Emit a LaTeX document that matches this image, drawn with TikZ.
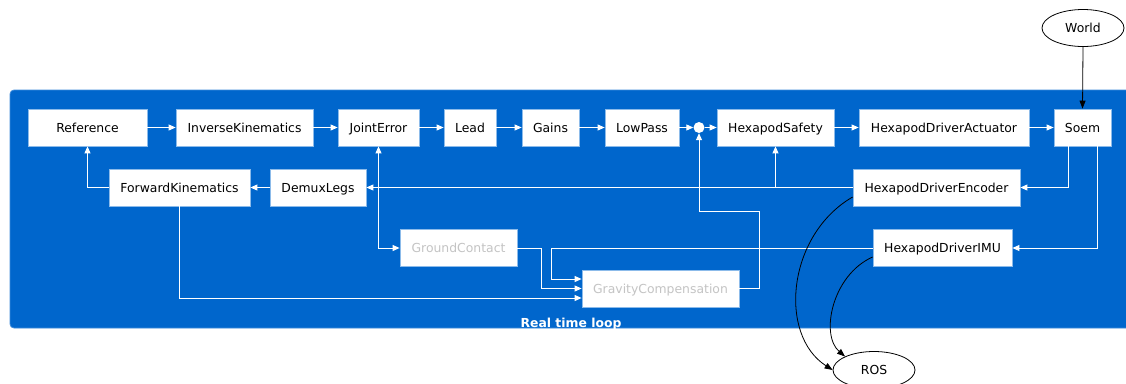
\documentclass[tikz,border=0pt]{standalone}
\usepackage{fontspec}
\setmainfont{DejaVu Sans}
\usetikzlibrary{arrows.meta,shapes.geometric}
\definecolor{loopblue}{HTML}{0066CC}
\definecolor{loopborder}{HTML}{3D8BDB}
\definecolor{boxborder}{HTML}{8CBBEA}
\definecolor{muted}{HTML}{C4C4C4}
\begin{document}
\begin{tikzpicture}[x=1pt,y=-1pt,
  every node/.style={font=\fontsize{12.4}{14}\selectfont},
  blk/.style={draw=boxborder, fill=white, line width=0.8pt, minimum height=37pt, inner sep=0pt, text height=9pt, text depth=0pt, text=black},
  mutedblk/.style={blk, text=muted},
  wire/.style={draw=white, line width=0.9pt, -{Triangle[length=7pt,width=6pt]}},
  ext/.style={draw=black, line width=0.8pt, -{Triangle[length=8pt,width=6pt]}},
  oval/.style={ellipse, draw=black, fill=white, line width=0.8pt, minimum width=82pt, minimum height=37pt, inner sep=0pt, text height=9pt, text depth=0pt}]
\useasboundingbox (0,0) rectangle (1126,383);
\begin{scope}
\clip (0,0) rectangle (1126,383);
% cluster
\path[fill=loopblue, draw=loopborder, line width=0.8pt, rounded corners=4pt] (10,90) rectangle (1150,328);
\node[font=\bfseries\fontsize{12.4}{14}\selectfont, text=white, anchor=base] (lbl) at (571,327) {Real time loop};

% row 1
\node[blk, minimum width=119pt] (ref) at (87.5,127.5) {Reference};
\node[blk, minimum width=137pt] (ik) at (244.5,127.5) {InverseKinematics};
\node[blk, minimum width=81pt] (je) at (378.5,127.5) {JointError};
\node[blk, minimum width=52pt] (lead) at (470,127.5) {Lead};
\node[blk, minimum width=57pt] (gains) at (550.5,127.5) {Gains};
\node[blk, minimum width=74pt] (lp) at (642,127.5) {LowPass};
\node[circle, fill=white, minimum size=11pt, inner sep=0pt] (sum) at (699,127.5) {};
\node[blk, minimum width=117pt] (safe) at (775.5,127.5) {HexapodSafety};
\node[blk, minimum width=170pt] (act) at (944,127.5) {HexapodDriverActuator};
\node[blk, minimum width=57pt] (soem) at (1082.5,127.5) {Soem};
% row 2
\node[blk, minimum width=141pt] (fk) at (179.5,187.5) {ForwardKinematics};
\node[blk, minimum width=96pt] (demux) at (318,187.5) {DemuxLegs};
\node[blk, minimum width=167pt] (enc) at (936.5,187.5) {HexapodDriverEncoder};
% row 3
\node[mutedblk, minimum width=117pt] (gc) at (458.5,248) {GroundContact};
\node[blk, minimum width=139pt] (imu) at (942.5,248) {HexapodDriverIMU};
\node[mutedblk, minimum width=157pt] (grav) at (660.5,288.5) {GravityCompensation};
% outside
\node[oval] (world) at (1083,28) {World};
\node[oval] (ros) at (874,370) {ROS};

% white edges
\draw[wire] (ref.east) -- (ik.west);
\draw[wire] (ik.east) -- (je.west);
\draw[wire] (je.east) -- (lead.west);
\draw[wire] (lead.east) -- (gains.west);
\draw[wire] (gains.east) -- (lp.west);
\draw[wire] (lp.east) -- (sum.west);
\draw[wire] (sum.east) -- (safe.west);
\draw[wire] (safe.east) -- (act.west);
\draw[wire] (act.east) -- (soem.west);
\draw[wire] ([xshift=-14.5pt]soem.south) |- (enc.east);
\draw[wire] ([xshift=14.5pt]soem.south) |- (imu.east);
\draw[wire] (enc.west) -- (demux.east);
\draw[wire] (enc.west) -| (safe.south);
\draw[wire] (enc.west) -| (je.south);
\coordinate (jx) at (je.south |- enc.west);
\draw[wire] (enc.west) -- (jx) |- (gc.west);
\draw[wire] (demux.west) -- (fk.east);
\draw[wire] (fk.west) -| (ref.south);
\draw[wire] (fk.south) |- ([yshift=-9.5pt]grav.west);
\draw[wire] (gc.east) -- ++(24.5,0) |- (grav.west);
\draw[wire] (imu.west) -- (551.5,248) |- ([yshift=9.5pt]grav.west);
\draw[wire] (grav.east) -| (759,211) -| (sum.south);

% black edges
\draw[ext] (world.south) -- (soem.north);
\draw[ext] ([yshift=-9.5pt]enc.west) .. controls (787,235) and (778,335) .. (ros.west);
\draw[ext] ([yshift=-9pt]imu.west) .. controls (832,275) and (820,335) .. (ros.155);
\end{scope}
\end{tikzpicture}
\end{document}
